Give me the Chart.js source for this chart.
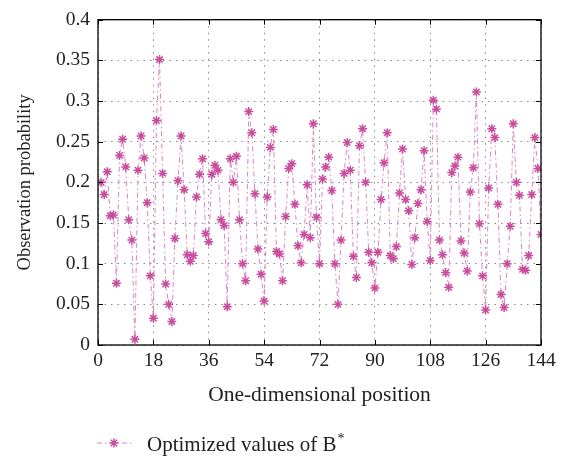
<!DOCTYPE html>
<html>
<head>
<meta charset="utf-8">
<script src="https://cdn.jsdelivr.net/npm/chart.js@4/dist/chart.umd.min.js"></script>
<style>
  html, body { margin: 0; padding: 0; background: #fff; }
  #wrap { width: 567px; height: 458px; }
</style>
</head>
<body>
<div id="wrap"><canvas id="probChart"></canvas></div>
<script>
// observation probability at positions 1..144
const probability = [
  0.200, 0.185, 0.213, 0.159, 0.160, 0.076, 0.233, 0.253, 0.219, 0.154,
  0.129, 0.007, 0.215, 0.257, 0.230, 0.175, 0.085, 0.033, 0.276, 0.351,
  0.211, 0.075, 0.050, 0.029, 0.131, 0.202, 0.257, 0.191, 0.111, 0.103,
  0.110, 0.182, 0.210, 0.229, 0.137, 0.127, 0.210, 0.221, 0.215, 0.154,
  0.147, 0.047, 0.229, 0.200, 0.232, 0.154, 0.100, 0.079, 0.287, 0.261,
  0.186, 0.118, 0.087, 0.054, 0.182, 0.243, 0.265, 0.115, 0.112, 0.079,
  0.158, 0.217, 0.223, 0.173, 0.122, 0.101, 0.136, 0.197, 0.132, 0.272,
  0.157, 0.100, 0.204, 0.219, 0.231, 0.190, 0.100, 0.050, 0.129, 0.211,
  0.249, 0.215, 0.109, 0.083, 0.245, 0.266, 0.200, 0.114, 0.101, 0.070,
  0.114, 0.179, 0.224, 0.261, 0.110, 0.106, 0.121, 0.187, 0.241, 0.179,
  0.165, 0.099, 0.132, 0.174, 0.191, 0.239, 0.152, 0.104, 0.301, 0.290,
  0.129, 0.111, 0.089, 0.071, 0.212, 0.220, 0.231, 0.128, 0.113, 0.091,
  0.188, 0.218, 0.311, 0.149, 0.085, 0.043, 0.193, 0.266, 0.255, 0.173,
  0.062, 0.046, 0.100, 0.146, 0.272, 0.200, 0.184, 0.093, 0.092, 0.110,
  0.185, 0.255, 0.217, 0.136
];
const xTicks = [0, 18, 36, 54, 72, 90, 108, 126, 144];
const yTicks = [0, 0.05, 0.1, 0.15, 0.2, 0.25, 0.3, 0.35, 0.4];

const seriesLabel = "Optimized values of B";
const xTitle = "One-dimensional position";
const yTitle = "Observation probability";

const FONT = "'Liberation Serif', 'DejaVu Serif', serif";
const markerColor = "#c94d9e";
const lineColor = "rgba(222,120,195,0.95)";
const lineDash = [5, 3, 1.5, 3];

// box frame, inward ticks and the legend under the axis title
const framePlugin = {
  id: "frame",
  afterDraw(chart) {
    const { ctx, chartArea: a, scales } = chart;
    ctx.save();
    ctx.setLineDash([]);
    ctx.strokeStyle = "#000";
    ctx.lineWidth = 1.3;
    ctx.strokeRect(a.left, a.top, a.right - a.left, a.bottom - a.top);

    ctx.lineWidth = 1;
    const t = 5;
    ctx.beginPath();
    xTicks.forEach((v) => {
      const x = Math.round(scales.x.getPixelForValue(v)) + 0.5;
      ctx.moveTo(x, a.bottom); ctx.lineTo(x, a.bottom - t);
      ctx.moveTo(x, a.top); ctx.lineTo(x, a.top + t);
    });
    yTicks.forEach((v) => {
      const y = Math.round(scales.y.getPixelForValue(v)) + 0.5;
      ctx.moveTo(a.left, y); ctx.lineTo(a.left + t, y);
      ctx.moveTo(a.right, y); ctx.lineTo(a.right - t, y);
    });
    ctx.stroke();

    // legend
    const ly = 443;
    ctx.strokeStyle = lineColor;
    ctx.setLineDash(lineDash);
    ctx.beginPath();
    ctx.moveTo(97, ly); ctx.lineTo(134, ly);
    ctx.stroke();
    ctx.setLineDash([]);
    ctx.strokeStyle = markerColor;
    ctx.lineWidth = 1.5;
    Chart.helpers.drawPoint(ctx, { pointStyle: "star", radius: 4.5, borderWidth: 1.5 }, 114, ly);

    ctx.fillStyle = "#222";
    ctx.font = "21px " + FONT;
    ctx.textBaseline = "middle";
    ctx.textAlign = "left";
    ctx.fillText(seriesLabel, 147, ly + 2);
    const w = ctx.measureText(seriesLabel).width;
    ctx.font = "14px " + FONT;
    ctx.fillText("*", 147 + w + 1, ly - 4);
    ctx.restore();
  },
};

const el = document.getElementById("probChart");
new Chart(el, {
  type: "line",
  data: {
    datasets: [
      {
        label: seriesLabel,
        data: probability.map((v, i) => ({ x: i + 1, y: v })),
        borderColor: lineColor,
        borderWidth: 1,
        borderDash: lineDash,
        tension: 0,
        pointStyle: "star",
        pointRadius: 4.5,
        pointBorderWidth: 1.5,
        pointBorderColor: markerColor,
        pointBackgroundColor: markerColor,
      },
    ],
  },
  options: {
    responsive: true,
    maintainAspectRatio: false,
    animation: false,
    layout: { padding: { top: 14, right: 26, left: 14, bottom: 50 } },
    plugins: {
      legend: { display: false },
      tooltip: { enabled: false },
    },
    scales: {
      x: {
        type: "linear",
        min: 0,
        max: 144,
        afterBuildTicks: (s) => { s.ticks = xTicks.map((v) => ({ value: v })); },
        afterFit: (s) => { s.height = 63; },
        ticks: {
          color: "#222",
          font: { family: FONT, size: 19.5 },
          padding: 4,
          maxRotation: 0,
          callback: (v) => String(v),
        },
        grid: { color: "#8a8a8a", lineWidth: 1, drawTicks: false },
        border: { display: false, dash: [1.5, 5] },
        title: {
          display: true,
          text: xTitle,
          color: "#222",
          font: { family: FONT, size: 21.5 },
          padding: { top: 4, bottom: 0 },
        },
      },
      y: {
        min: 0,
        max: 0.4,
        afterBuildTicks: (s) => { s.ticks = yTicks.map((v) => ({ value: v })); },
        afterFit: (s) => { s.width = 84; },
        ticks: {
          color: "#222",
          font: { family: FONT, size: 19.5 },
          padding: 8,
          callback: (v) => String(+v.toFixed(2)),
        },
        grid: { color: "#8a8a8a", lineWidth: 1, drawTicks: false },
        border: { display: false, dash: [1.5, 5] },
        title: {
          display: true,
          text: yTitle,
          color: "#222",
          font: { family: FONT, size: 18.5 },
          padding: { top: 0, bottom: 4 },
        },
      },
    },
  },
  plugins: [framePlugin],
});
</script>
</body>
</html>
